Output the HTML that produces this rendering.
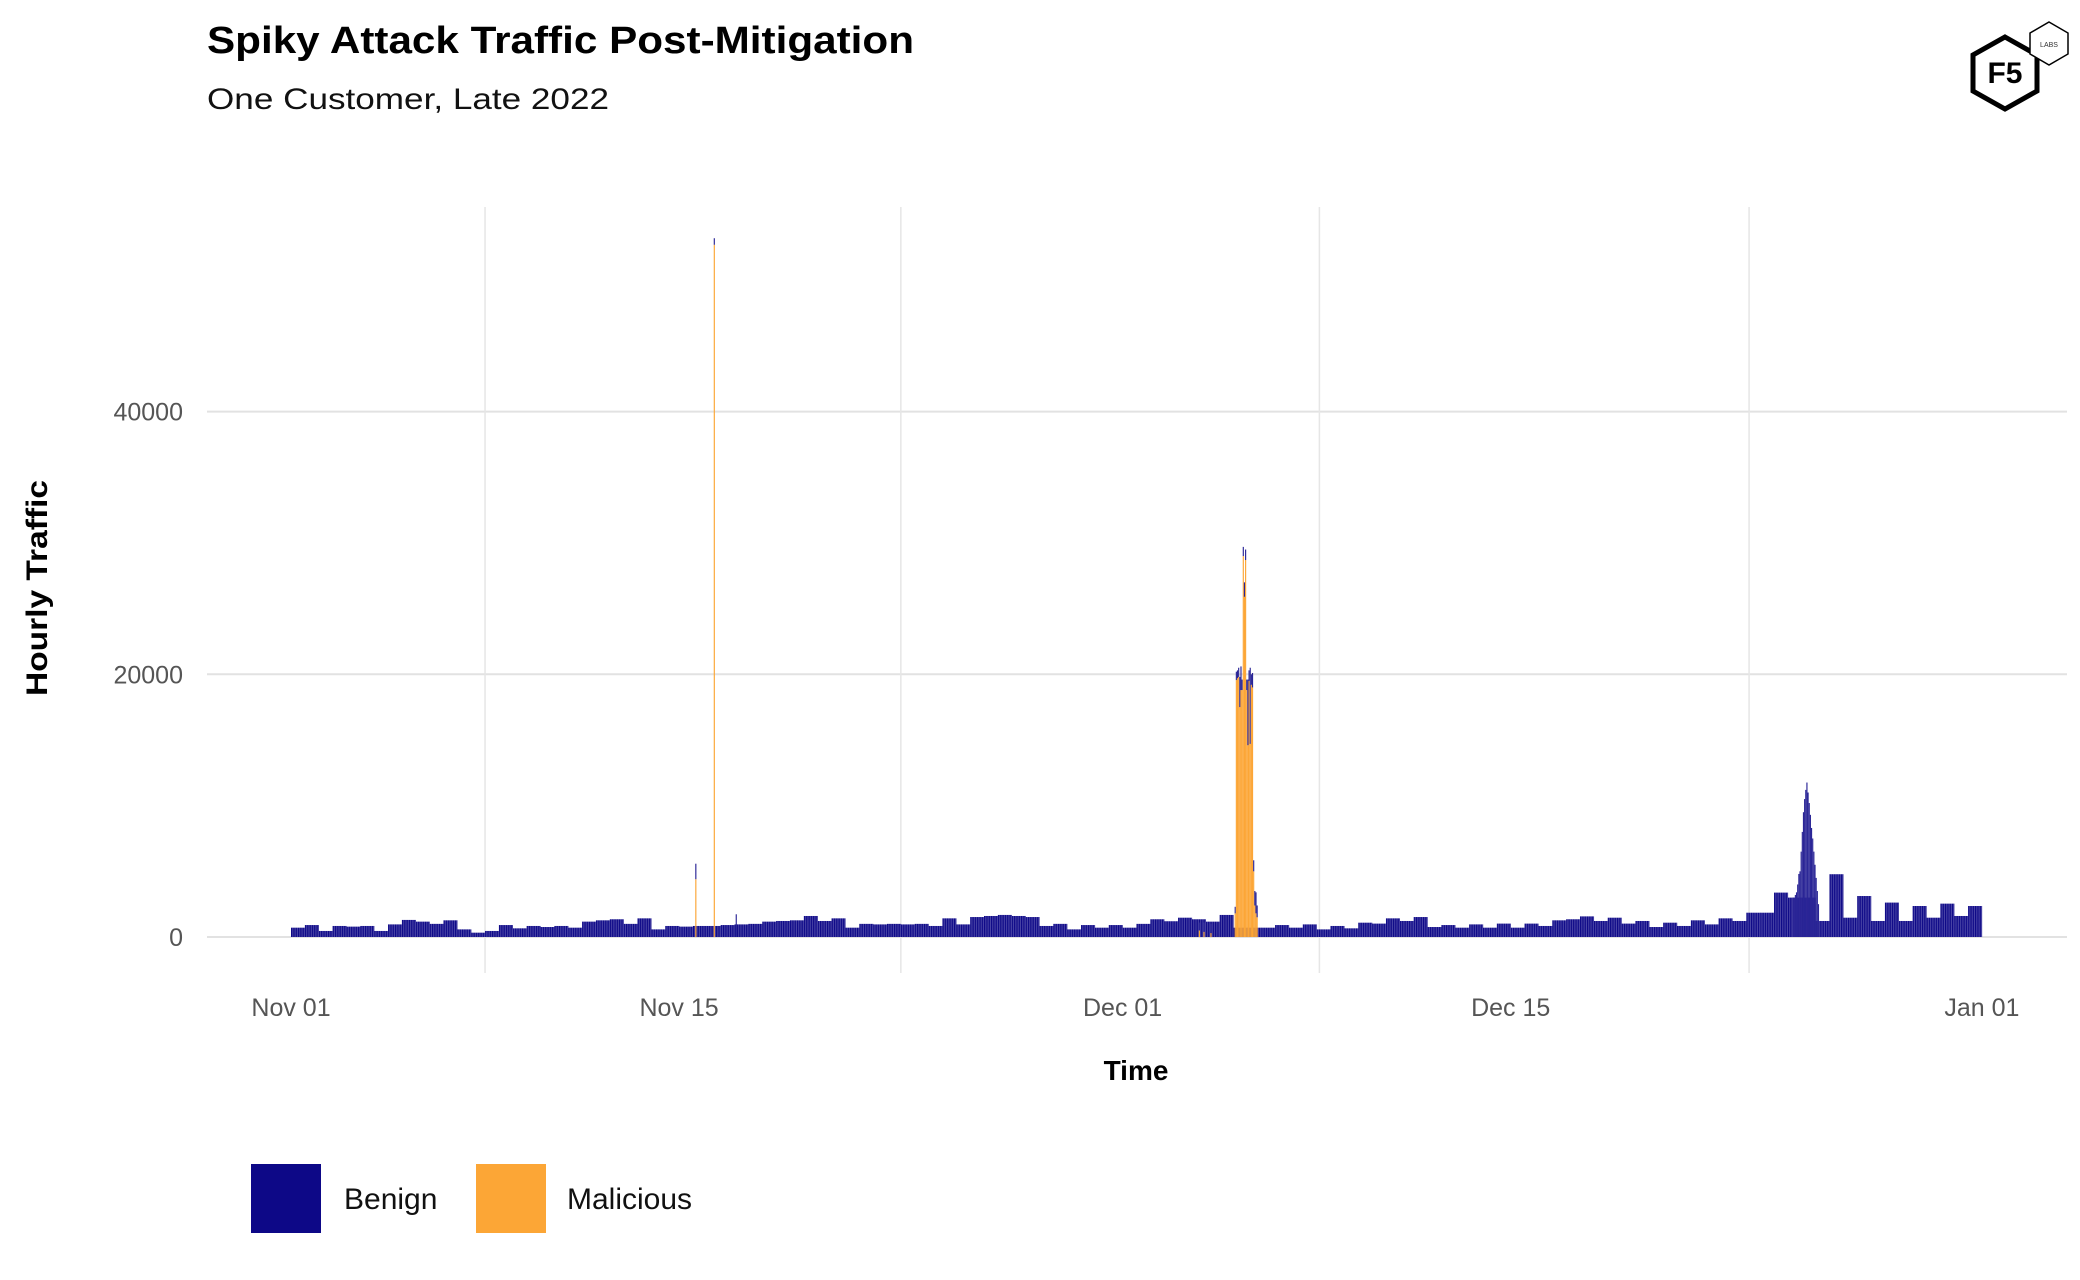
<!DOCTYPE html>
<html><head><meta charset="utf-8"><style>
html,body{margin:0;padding:0;background:#fff}
svg{display:block;font-family:"Liberation Sans",sans-serif}
</style></head><body>
<svg id="chart" width="2080" height="1280" viewBox="0 0 2080 1280" xmlns="http://www.w3.org/2000/svg">
<defs>
<pattern id="stripe" patternUnits="userSpaceOnUse" width="2.31" height="10">
<rect width="2.31" height="10" fill="#4a45a6"/><rect width="1.2" height="10" fill="#0d0887"/>
</pattern>
</defs>
<text x="207" y="53" font-size="38" font-weight="bold" fill="#000" textLength="707" lengthAdjust="spacingAndGlyphs">Spiky Attack Traffic Post-Mitigation</text>
<text x="207" y="109" font-size="30" fill="#111" textLength="402" lengthAdjust="spacingAndGlyphs">One Customer, Late 2022</text>
<g id="grid"></g>
<g id="bars"></g>
<g id="axes"></g>
<text x="1136" y="1080" font-size="28" font-weight="bold" text-anchor="middle">Time</text>
<text transform="translate(47,588) rotate(-90)" font-size="30" font-weight="bold" text-anchor="middle" textLength="216" lengthAdjust="spacingAndGlyphs">Hourly Traffic</text>
<g>
<rect x="251" y="1164" width="70" height="69" fill="#0d0887"/>
<text x="344" y="1209" font-size="30" fill="#111">Benign</text>
<rect x="476" y="1164" width="70" height="69" fill="#fca636"/>
<text x="567" y="1209" font-size="30" fill="#111">Malicious</text>
</g>
<g>
<polygon points="2005,37 2037,55 2037,91 2005,109 1973,91 1973,55" fill="none" stroke="#000" stroke-width="5"/>
<text x="2005" y="83" font-size="30" font-weight="bold" text-anchor="middle">F5</text>
<polygon points="2049,22 2068,33 2068,54 2049,65 2030,54 2030,33" fill="#fff" stroke="#000" stroke-width="1.5"/>
<text x="2049" y="47" font-size="7" text-anchor="middle" fill="#333">LABS</text>
</g>
</svg>
<script>
// half-day benign values (2 per day, Nov 1 - Dec 31)
const benignHalfDay = [
710,910, 460,840, 790,840, 460,960, 1300,1170, 1000,1270, 580,330, 460,910, 660,840, 760,840,
710,1170, 1270,1350, 1000,1420, 580,840, 790,840, 840,910, 960,1000, 1170,1220, 1270,1600, 1220,1420,
710,1000, 960,1000, 960,1000, 840,1420, 960,1520, 1600,1680, 1600,1520, 840,1000, 580,910, 710,910,
710,1000, 1350,1200, 1470,1350, 1170,1680, 710,710, 710,910, 710,960, 580,840, 660,1090, 1020,1420,
1220,1520, 760,910, 710,960, 710,1020, 710,1020, 840,1270, 1350,1570, 1220,1470, 1020,1220, 760,1090,
840,1270, 960,1420, 1220,1850, 1850,3380, 3000,3000, 1220,4780, 1470,3120, 1220,2620, 1220,2360, 1470,2540,
1600,2360
];
// hourly events: hour index from Nov 1 00:00
const eventHours    = [350, 366, 385, 817,818,819,820,821,822,823,824,825,826,827,828,829,830,831,832,833,834,835,836, 1300,1301,1302,1303,1304,1305,1306,1307,1308,1309,1310,1311,1312,1313,1314,1315,1316,1317,1318,1319,1320,1321,1322, 786,790,796];
const eventBenign   = [1180, 500, 1730, 500,640,600,700,2300,1800,800,700,1100,800,800,5000,800,5800,800,1100,840,1100,1600,900, 3000,3000,3200,3400,4000,4800,5000,6500,8000,9500,10500,11200,11760,11000,10200,9300,8300,7500,6500,5500,4500,3500,2500, 600,700,700];
const eventMalicious= [4400, 52700, 0, 1800,19560,19700,19800,17500,18800,18800,29000,25900,28700,18800,14600,19500,14700,19200,19000,5000,2400,1800,1500, 0,0,0,0,0,0,0,0,0,0,0,0,0,0,0,0,0,0,0,0,0,0,0, 500,400,300];
const yTicks = [0, 20000, 40000];
const xTickLabels = ["Nov 01","Nov 15","Dec 01","Dec 15","Jan 01"];
const xTickDays = [0, 14, 30, 44, 61];
const gridDays = [7, 22, 37.1, 52.6];

const NS="http://www.w3.org/2000/svg";
const X0=291, PXDAY=27.72, Y0=937, PXV=262.7/20000;
const xH=h=>X0+h*PXDAY/24;
const xD=d=>X0+d*PXDAY;
const yV=v=>Y0-v*PXV;
function mk(tag,attrs,parent){const e=document.createElementNS(NS,tag);for(const k in attrs)e.setAttribute(k,attrs[k]);parent.appendChild(e);return e;}
const grid=document.getElementById('grid'), bars=document.getElementById('bars'), axes=document.getElementById('axes');
yTicks.forEach(t=>{
  const l=mk('line',{x1:207,x2:2067,y1:yV(t),y2:yV(t),stroke:'#e2e2e2','stroke-width':2},grid);
  
  
  const tx=mk('text',{x:183,y:yV(t)+9,'font-size':25,fill:'#555','text-anchor':'end'},axes);
  
  
  tx.textContent=t;
});
gridDays.forEach(d=>{
  const l=mk('line',{x1:xD(d),x2:xD(d),y1:207,y2:973,stroke:'#e6e6e6','stroke-width':1.5},grid);
  
  
});
xTickLabels.forEach((s,i)=>{
  const tx=mk('text',{x:xD(xTickDays[i]),y:1016,'font-size':25,fill:'#555','text-anchor':'middle'},axes);
  
  
  tx.textContent=s;
});
benignHalfDay.forEach((v,i)=>{
  const r=mk('rect',{x:xH(i*12),y:yV(v),width:xH(12)-xH(0)+0.2,height:Y0-yV(v),fill:'url(#stripe)'},bars);
  
  
});
eventHours.forEach((h,i)=>{
  const w=xH(1)-xH(0), m=eventMalicious[i], b=eventBenign[i];
  if(m>0){
    const r=mk('rect',{x:xH(h),y:yV(m),width:w,height:Y0-yV(m),fill:'#fca636'},bars);
    
    
  }
  const r2=mk('rect',{x:xH(h),y:yV(m+b),width:w,height:yV(m)-yV(m+b),fill:'#2a2596'},bars);
  
  
});
</script>
</body></html>
